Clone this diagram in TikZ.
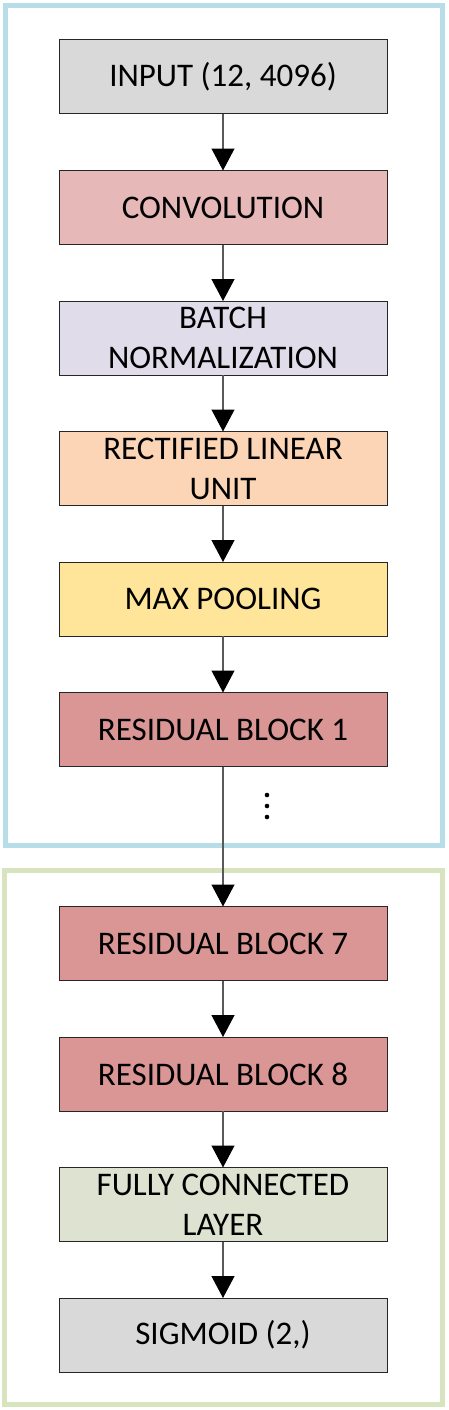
\documentclass[tikz,border=0pt]{standalone}
\usepackage{fontspec}
\setmainfont{Carlito}
\usetikzlibrary{positioning}
\usetikzlibrary{arrows.meta}
\definecolor{inputgray}{HTML}{D9D9D9}
\definecolor{convred}{HTML}{E6B8B7}
\definecolor{normlilac}{HTML}{E0DCEA}
\definecolor{reluorange}{HTML}{FBD5B5}
\definecolor{poolyellow}{HTML}{FEE599}
\definecolor{resred}{HTML}{DA9694}
\definecolor{fcgreen}{HTML}{DDE3D0}
\definecolor{frameblue}{HTML}{B7DDE8}
\definecolor{framegreen}{HTML}{D7E4BD}
\definecolor{linkgray}{HTML}{595959}

\begin{document}
\begin{tikzpicture}[x=1pt,y=-1pt,
    layer/.style={draw=black!85, line width=1pt, minimum width=328pt, minimum height=74pt,
        inner sep=0pt, outer sep=0pt, align=center, font=\fontsize{33}{40}\selectfont},
    link/.style={draw=linkgray, line width=1.2pt,
        -{Triangle[width=23pt,length=22pt,color=black]}}]
    \useasboundingbox (0,0) rectangle (448,1410);
    %Frames
    \draw[frameblue, line width=5pt] (5.5,6) rectangle (442,845);
    \draw[framegreen, line width=5pt] (4,870) rectangle (442,1404);
    \begin{scope}[node distance=56.5pt]
        \node(input)[layer, fill=inputgray] at (223,77) {INPUT (12, 4096)};
        \node(conv)[layer, fill=convred, below=of input] {CONVOLUTION};
        \node(bn)[layer, fill=normlilac, below=of conv] {BATCH\\NORMALIZATION};
        \node(relu)[layer, fill=reluorange, below=of bn] {RECTIFIED LINEAR\\UNIT};
        \node(pool)[layer, fill=poolyellow, below=of relu] {MAX POOLING};
        \node(res1)[layer, fill=resred, below=of pool] {RESIDUAL BLOCK 1};
        \node(res7)[layer, fill=resred, below=140pt of res1] {RESIDUAL BLOCK 7};
        \node(res8)[layer, fill=resred, below=of res7] {RESIDUAL BLOCK 8};
        \node(fc)[layer, fill=fcgreen, below=of res8] {FULLY CONNECTED\\LAYER};
        \node(sig)[layer, fill=inputgray, below=of fc] {SIGMOID (2,)};
    \end{scope}
    %Dots
    \foreach \y in {795,806,817}
        \fill (267,\y) circle (2.3pt);
    %Lines
    \draw[link] (input) -- (conv);
    \draw[link] (conv) -- (bn);
    \draw[link] (bn) -- (relu);
    \draw[link] (relu) -- (pool);
    \draw[link] (pool) -- (res1);
    \draw[link] (res1) -- (res7);
    \draw[link] (res7) -- (res8);
    \draw[link] (res8) -- (fc);
    \draw[link] (fc) -- (sig);
\end{tikzpicture}
\end{document}
